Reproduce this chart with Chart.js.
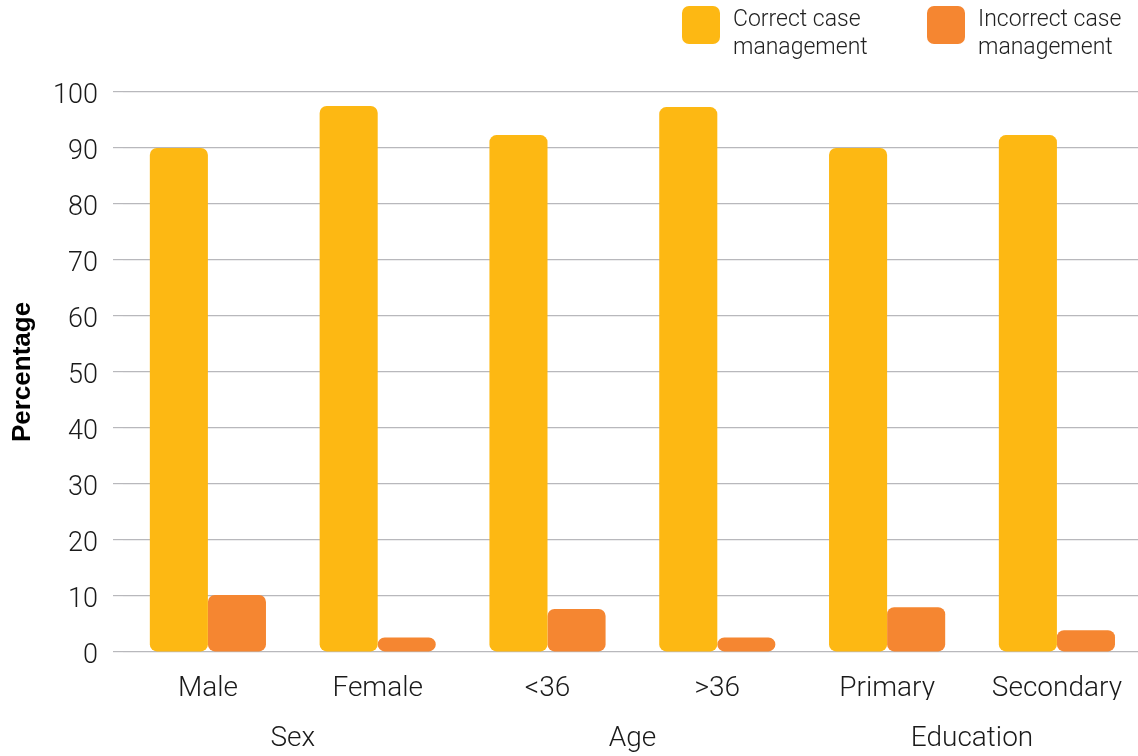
<!DOCTYPE html>
<html>
<head>
<meta charset="utf-8">
<script src="https://cdn.jsdelivr.net/npm/chart.js@4"></script>
<style>
  html, body { margin: 0; padding: 0; background: #fff; overflow: hidden; width: 1138px; height: 756px; }
  #wrap { position: relative; width: 1142px; height: 756px; }
  canvas { display: block; }
  .leg { position: absolute; top: 6px; font-family: Roboto, sans-serif; font-weight: 300; font-size: 23px; line-height: 28px; color: #222; }
  .leg .box { position: absolute; left: 0; top: 0; width: 38px; height: 38px; border-radius: 7px; }
  .leg .txt { position: absolute; left: 51px; top: -1px; white-space: nowrap; }
</style>
</head>
<body>
<div id="wrap">
  <canvas id="c" width="1142" height="756"></canvas>
  <div id="legend"></div>
</div>
<script>
const categories = ["Male", "Female", "<36", ">36", "Primary", "Secondary"];
const groups = ["Sex", "Age", "Education"];
const correctLabel = ["Correct case", "management"];
const incorrectLabel = ["Incorrect case", "management"];
const correctValues = [90, 97.5, 92.3, 97.3, 90, 92.3];
const incorrectValues = [10.2, 2.6, 7.7, 2.6, 8.0, 3.9];
const yTicks = [0, 10, 20, 30, 40, 50, 60, 70, 80, 90, 100];

const colors = ["#FDB813", "#F58631"];
const yTickFont = { family: "Roboto", weight: 300, size: 27 };
const xTickFont = { family: "Roboto", weight: 300, size: 28 };

const chart = new Chart(document.getElementById("c"), {
  type: "bar",
  data: {
    labels: categories,
    datasets: [
      { label: correctLabel.join(" "), data: correctValues, backgroundColor: colors[0] },
      { label: incorrectLabel.join(" "), data: incorrectValues, backgroundColor: colors[1] }
    ]
  },
  options: {
    responsive: false,
    animation: false,
    layout: { padding: { top: 92, right: 0, left: 0, bottom: 0 } },
    datasets: { bar: { categoryPercentage: 0.684, barPercentage: 1.0, borderRadius: 7, borderSkipped: false } },
    plugins: { legend: { display: false }, tooltip: { enabled: false } },
    scales: {
      x: {
        type: "category",
        position: "bottom",
        grid: { display: false, drawTicks: false },
        border: { display: false },
        ticks: { color: "#1a1a1a", font: xTickFont, padding: 20, maxRotation: 0 },
        afterFit: s => { s.height = 48; }
      },
      x2: {
        type: "category",
        position: "bottom",
        labels: groups,
        grid: { display: false, drawTicks: false },
        border: { display: false },
        ticks: { color: "#1a1a1a", font: xTickFont, padding: 22, maxRotation: 0 },
        afterFit: s => { s.height = 56; }
      },
      y: {
        min: 0,
        max: 100,
        afterBuildTicks: s => { s.ticks = yTicks.map(v => ({ value: v })); },
        grid: { color: "#b8b8bc", lineWidth: 1.2, tickLength: 10, drawTicks: true },
        border: { display: false },
        ticks: { color: "#1a1a1a", font: yTickFont, padding: 15, labelOffset: 4 },
        title: { display: true, text: "Percentage", color: "#000", font: { family: "Liberation Sans", weight: "bold", size: 26 }, padding: { top: 7, bottom: 0 } },
        afterFit: s => { s.width = 123; }
      }
    }
  }
});

// HTML legend built from dataset info
const legendPos = [682, 927];
const legendLines = [correctLabel, incorrectLabel];
const legEl = document.getElementById("legend");
chart.data.datasets.forEach((ds, i) => {
  const d = document.createElement("div");
  d.className = "leg";
  d.style.left = legendPos[i] + "px";
  const b = document.createElement("div");
  b.className = "box";
  b.style.background = ds.backgroundColor;
  const t = document.createElement("div");
  t.className = "txt";
  t.innerHTML = legendLines[i].join("<br>");
  d.appendChild(b); d.appendChild(t);
  legEl.appendChild(d);
});
</script>
</body>
</html>
